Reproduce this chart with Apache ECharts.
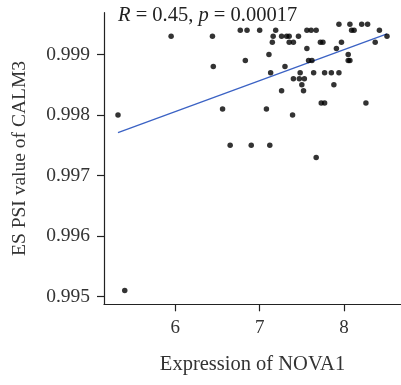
<!DOCTYPE html>
<html><head><meta charset="utf-8">
<script src="https://cdn.jsdelivr.net/npm/echarts@6/dist/echarts.min.js"></script>
<style>html,body{margin:0;padding:0;background:#fff}#c{width:401px;height:385px}</style>
</head><body><div id="c"></div>
<script>
const novaExpr = [5.32,5.95,6.44,6.45,6.56,6.65,6.77,6.85,6.83,6.90,7.00,7.08,7.12,7.11,7.13,7.15,7.16,7.19,7.26,7.26,7.30,7.32,7.35,7.35,7.40,7.39,7.40,7.46,7.48,7.47,7.53,7.50,7.52,7.56,7.61,7.67,7.56,7.58,7.62,7.64,7.67,7.72,7.75,7.73,7.77,7.77,7.85,7.88,7.91,7.94,7.94,7.97,8.05,8.05,8.07,8.07,8.09,8.12,8.21,8.26,8.28,8.37,8.42,8.51,5.40];
const calm3Psi = [0.9980,0.9993,0.9993,0.9988,0.9981,0.9975,0.9994,0.9994,0.9989,0.9975,0.9994,0.9981,0.9975,0.9990,0.9987,0.9992,0.9993,0.9994,0.9993,0.9984,0.9988,0.9993,0.9993,0.9992,0.9992,0.9980,0.9986,0.9993,0.9987,0.9986,0.9986,0.9985,0.9984,0.9994,0.9994,0.9994,0.9991,0.9989,0.9989,0.9987,0.9973,0.9992,0.9992,0.9982,0.9982,0.9987,0.9987,0.9985,0.9991,0.9987,0.9995,0.9992,0.9990,0.9989,0.9989,0.9995,0.9994,0.9994,0.9995,0.9982,0.9995,0.9992,0.9994,0.9993,0.9951];
const fitX = [5.32, 8.51];
const fitY = [0.99771, 0.99934];
const xTicks = [6, 7, 8];
const yTicks = [0.995, 0.996, 0.997, 0.998, 0.999];
const annotation = ['R', ' = 0.45, ', 'p', ' = 0.00017'];

const serif = '"Liberation Serif", "DejaVu Serif", serif';
const chart = echarts.init(document.getElementById('c'), null, {renderer: 'canvas'});
chart.setOption({
  animation: false,
  backgroundColor: '#fff',
  grid: {left: 104, top: 12.7, right: 0, bottom: 80.7, containLabel: false},
  graphic: [{
    type: 'text', left: 118, top: 5,
    style: {
      rich: {
        i: {fontFamily: serif, fontSize: 20.5, fontStyle: 'italic', fill: '#222'},
        n: {fontFamily: serif, fontSize: 20.5, fill: '#222'}
      },
      text: '{i|' + annotation[0] + '}{n|' + annotation[1] + '}{i|' + annotation[2] + '}{n|' + annotation[3] + '}'
    }
  }],
  xAxis: {
    type: 'value', min: 5.154, max: 8.676,
    name: 'Expression of NOVA1', nameLocation: 'middle', nameGap: 50,
    nameTextStyle: {fontFamily: serif, fontSize: 20.5, color: '#333'},
    splitLine: {show: false},
    axisLine: {show: true, onZero: false, lineStyle: {color: '#222', width: 1.2}},
    axisTick: {show: true, length: 7, lineStyle: {color: '#222', width: 1.2}, customValues: xTicks},
    axisLabel: {fontFamily: serif, fontSize: 19, color: '#333', margin: 14, customValues: xTicks}
  },
  yAxis: {
    type: 'value', min: 0.994874, max: 0.99969,
    name: 'ES PSI value of CALM3', nameLocation: 'middle', nameGap: 74, nameRotate: 90,
    nameTextStyle: {fontFamily: serif, fontSize: 19.5, color: '#333'},
    splitLine: {show: false},
    axisLine: {show: true, onZero: false, lineStyle: {color: '#222', width: 1.2}},
    axisTick: {show: true, length: 7, lineStyle: {color: '#222', width: 1.2}, customValues: yTicks},
    axisLabel: {fontFamily: serif, fontSize: 19.5, color: '#333', margin: 14, customValues: yTicks,
      formatter: v => v.toFixed(3)}
  },
  series: [
    {type: 'scatter', data: novaExpr.map((x, i) => [x, calm3Psi[i]]), symbolSize: 5.5,
     itemStyle: {color: '#000'}, z: 3},
    {type: 'line', data: fitX.map((x, i) => [x, fitY[i]]), showSymbol: false, symbol: 'none',
     lineStyle: {color: '#3b62c4', width: 1.3}, z: 2}
  ]
});
</script></body></html>
